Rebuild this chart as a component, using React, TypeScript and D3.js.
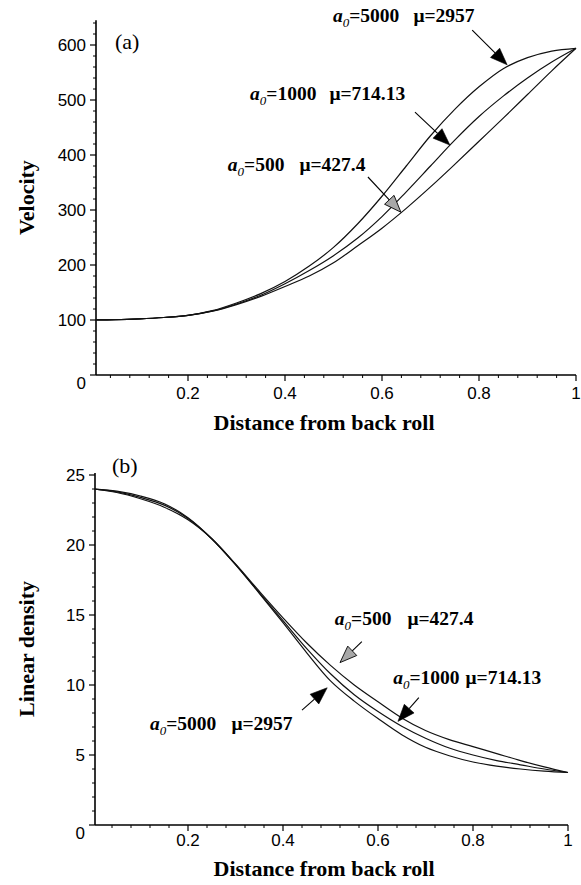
import React from 'react';
import * as d3 from 'd3';

// ---- data ----
const XS = [0, 0.05, 0.1, 0.15, 0.2, 0.25, 0.3, 0.35, 0.4, 0.45, 0.5, 0.55, 0.6, 0.65, 0.7, 0.75, 0.8, 0.85, 0.9, 0.95, 1];

const VEL_A5000 = [100, 100.5, 102, 104.5, 108.5, 117, 131, 148, 170, 198, 232, 275, 325, 380, 435, 483, 524, 557, 577, 589, 594];
const VEL_A1000 = [100, 100.5, 102, 104.5, 108.5, 116, 129, 145, 166, 190, 217, 249, 288, 333, 380, 427, 470, 507, 540, 569, 594];
const VEL_A500 = [100, 100.5, 102, 104.5, 108.5, 116, 128, 143, 161, 180, 204, 235, 267, 303, 342, 383, 425, 467, 510, 553, 594];

const DEN_A5000 = [24.0, 23.85, 23.5, 22.95, 21.95, 20.45, 18.6, 16.55, 14.45, 12.3, 10.3, 8.85, 7.6, 6.45, 5.55, 4.95, 4.5, 4.2, 4.0, 3.85, 3.75];
const DEN_A1000 = [24.0, 23.8, 23.4, 22.85, 21.9, 20.45, 18.6, 16.6, 14.6, 12.6, 10.8, 9.3, 8.1, 7.05, 6.2, 5.5, 5.0, 4.6, 4.3, 4.0, 3.75];
const DEN_A500 = [24.0, 23.75, 23.3, 22.7, 21.8, 20.45, 18.65, 16.7, 14.8, 13.0, 11.4, 10.0, 8.8, 7.65, 6.75, 6.1, 5.6, 5.1, 4.6, 4.15, 3.75];

const X_TICKS = [0.2, 0.4, 0.6, 0.8, 1];
const X_TICK_LABELS = ['0.2', '0.4', '0.6', '0.8', '1'];
const VEL_TICKS = [0, 100, 200, 300, 400, 500, 600];
const DEN_TICKS = [0, 5, 10, 15, 20, 25];

const A0_VALUES = ['5000', '1000', '500'];
const MU_VALUES = ['2957', '714.13', '427.4'];

// annotations in data coordinates: label anchor, arrow tail, arrow tip
const VEL_ANN = [
  { a0: A0_VALUES[0], mu: MU_VALUES[0], lx: 0.499, ly: 642, tx: 0.786, ty: 627, hx: 0.858, hy: 564, gray: false, gap: 9 },
  { a0: A0_VALUES[1], mu: MU_VALUES[1], lx: 0.328, ly: 500, tx: 0.668, ty: 478, hx: 0.740, hy: 418, gray: false, gap: 8 },
  { a0: A0_VALUES[2], mu: MU_VALUES[2], lx: 0.282, ly: 371, tx: 0.571, ty: 360, hx: 0.639, hy: 296, gray: true, gap: 10 },
];
const DEN_ANN = [
  { a0: A0_VALUES[2], mu: MU_VALUES[2], lx: 0.509, ly: 14.3, tx: 0.566, ty: 13.1, hx: 0.520, hy: 11.6, gray: true, gap: 11 },
  { a0: A0_VALUES[1], mu: MU_VALUES[1], lx: 0.632, ly: 10.1, tx: 0.686, ty: 9.1, hx: 0.642, hy: 7.4, gray: false, gap: 1 },
  { a0: A0_VALUES[0], mu: MU_VALUES[0], lx: 0.120, ly: 6.8, tx: 0.440, ty: 8.2, hx: 0.493, hy: 9.8, gray: false, gap: 10 },
];

const SERIF = '"Liberation Serif", "Times New Roman", serif';
const SANS = '"Liberation Sans", Arial, sans-serif';

type Ann = typeof VEL_ANN[number];

interface PanelProps {
  id: string;
  xRange: [number, number];
  axisX: number;
  yDomain: [number, number];
  yRange: [number, number];
  yAxisTop: number;
  yTicks: number[];
  yMinor: number[];
  series: number[][];
  ann: Ann[];
  tag: string;
  tagPos: [number, number];
  yLabel: string;
  yLabelX: number;
  xLabelY: number;
  xTickY: number;
  zeroDy: number;
}

function Arrow({ x1, y1, x2, y2, gray }: { x1: number; y1: number; x2: number; y2: number; gray: boolean }) {
  const dx = x2 - x1, dy = y2 - y1;
  const len = Math.hypot(dx, dy);
  const ux = dx / len, uy = dy / len;
  const L = 17, W = 6.5;
  const bx = x2 - ux * L, by = y2 - uy * L;
  const pts = [
    [x2, y2],
    [bx - uy * W, by + ux * W],
    [bx + uy * W, by - ux * W],
  ].map((p) => p.join(',')).join(' ');
  return (
    <g>
      <line x1={x1} y1={y1} x2={bx} y2={by} stroke="#000" strokeWidth={1.1} />
      <polygon points={pts} fill={gray ? '#a8a8a8' : '#000'} stroke="#000" strokeWidth={gray ? 0.9 : 0.6} />
    </g>
  );
}

function Label({ a, x, y }: { a: Ann; x: number; y: number }) {
  return (
    <text x={x} y={y} fontFamily={SERIF} fontWeight="bold" fontSize={19.5} fill="#000">
      <tspan fontStyle="italic">a</tspan>
      <tspan fontStyle="italic" fontWeight="normal" fontSize={13} dy={5}>0</tspan>
      <tspan dy={-5}>{'=' + a.a0}</tspan>
      <tspan dx={a.gap + 5}>{'μ=' + a.mu}</tspan>
    </text>
  );
}

function Panel(p: PanelProps) {
  const x = d3.scaleLinear().domain([0, 1]).range(p.xRange);
  const y = d3.scaleLinear().domain(p.yDomain).range(p.yRange);
  const line = d3
    .line<number>()
    .x((_, i) => x(XS[i]))
    .y((d) => y(d))
    .curve(d3.curveCatmullRom.alpha(0.5));
  const yBase = y(p.yDomain[0]);
  const yTop = y(p.yAxisTop);
  const xMinor = d3.range(0.04, 1.0, 0.04).filter((v) => Math.abs(v * 5 - Math.round(v * 5)) > 1e-6);
  const fmt = d3.format('d');
  return (
    <g>
      <defs>
        <clipPath id={'clip-' + p.id}>
          <rect x={p.axisX} y={yTop - 5} width={p.xRange[1] - p.axisX + 2} height={yBase - yTop + 5} />
        </clipPath>
      </defs>
      {/* axes */}
      <line x1={p.axisX} x2={p.axisX} y1={yTop} y2={yBase} stroke="#000" strokeWidth={1.6} />
      <line x1={p.axisX} x2={p.xRange[1]} y1={yBase} y2={yBase} stroke="#000" strokeWidth={1.6} />
      {p.yMinor.map((v) => (
        <line key={'ym' + v} x1={p.axisX - 3} x2={p.axisX} y1={y(v)} y2={y(v)} stroke="#000" strokeWidth={1} />
      ))}
      {p.yTicks.map((v) => (
        <g key={'yt' + v}>
          <line x1={p.axisX - 6} x2={p.axisX} y1={y(v)} y2={y(v)} stroke="#000" strokeWidth={1.2} />
          <text
            x={p.axisX - 10}
            y={y(v) + (v === 0 ? p.zeroDy : 0)}
            dy={6}
            textAnchor="end"
            fontFamily={SANS}
            fontSize={17}
            fill="#000"
          >
            {fmt(v)}
          </text>
        </g>
      ))}
      {xMinor.map((v) => (
        <line key={'xm' + v} x1={x(v)} x2={x(v)} y1={yBase} y2={yBase + 3} stroke="#000" strokeWidth={1} />
      ))}
      {X_TICKS.map((v, i) => (
        <g key={'xt' + v}>
          <line x1={x(v)} x2={x(v)} y1={yBase} y2={yBase + 6} stroke="#000" strokeWidth={1.2} />
          <text x={x(v)} y={p.xTickY} textAnchor="middle" fontFamily={SANS} fontSize={17} fill="#000">
            {X_TICK_LABELS[i]}
          </text>
        </g>
      ))}
      {/* curves */}
      <g clipPath={`url(#clip-${p.id})`}>
        {p.series.map((s, i) => (
          <path key={'s' + i} d={line(s) || ''} fill="none" stroke="#111" strokeWidth={1.2} />
        ))}
      </g>
      {/* annotations */}
      {p.ann.map((a, i) => (
        <g key={'a' + i}>
          <Label a={a} x={x(a.lx)} y={y(a.ly)} />
          <Arrow x1={x(a.tx)} y1={y(a.ty)} x2={x(a.hx)} y2={y(a.hy)} gray={a.gray} />
        </g>
      ))}
      {/* labels */}
      <text x={p.tagPos[0]} y={p.tagPos[1]} fontFamily={SERIF} fontSize={22} fill="#000">
        {p.tag}
      </text>
      <text
        transform={`translate(${p.yLabelX},${(yTop + yBase) / 2}) rotate(-90)`}
        textAnchor="middle"
        dy={7}
        fontFamily={SERIF}
        fontWeight="bold"
        fontSize={22}
        fill="#000"
      >
        {p.yLabel}
      </text>
      <text x={324} y={p.xLabelY} textAnchor="middle" fontFamily={SERIF} fontWeight="bold" fontSize={22} fill="#000">
        Distance from back roll
      </text>
    </g>
  );
}

export default function App() {
  const velMinor = d3.range(0, 641, 20).filter((v) => v % 100 !== 0);
  const denMinor = d3.range(0, 26, 1).filter((v) => v % 5 !== 0);
  return (
    <svg
      width={581}
      height={885}
      viewBox="0 0 581 885"
      style={{ position: 'absolute', left: 0, top: 0, background: '#fff' }}
    >
      <rect width={581} height={885} fill="#fff" />
      <Panel
        id="vel"
        xRange={[91, 576]}
        axisX={96}
        yDomain={[0, 600]}
        yRange={[375, 45]}
        yAxisTop={645}
        yTicks={VEL_TICKS}
        yMinor={velMinor}
        series={[VEL_A5000, VEL_A1000, VEL_A500]}
        ann={VEL_ANN}
        tag="(a)"
        tagPos={[115, 49]}
        yLabel="Velocity"
        yLabelX={27}
        xLabelY={430}
        xTickY={399}
        zeroDy={8}
      />
      <Panel
        id="den"
        xRange={[93, 568]}
        axisX={95}
        yDomain={[0, 25]}
        yRange={[825, 475]}
        yAxisTop={25.15}
        yTicks={DEN_TICKS}
        yMinor={denMinor}
        series={[DEN_A5000, DEN_A1000, DEN_A500]}
        ann={DEN_ANN}
        tag="(b)"
        tagPos={[112, 473]}
        yLabel="Linear density"
        yLabelX={27}
        xLabelY={876}
        xTickY={846}
        zeroDy={8}
      />
    </svg>
  );
}
